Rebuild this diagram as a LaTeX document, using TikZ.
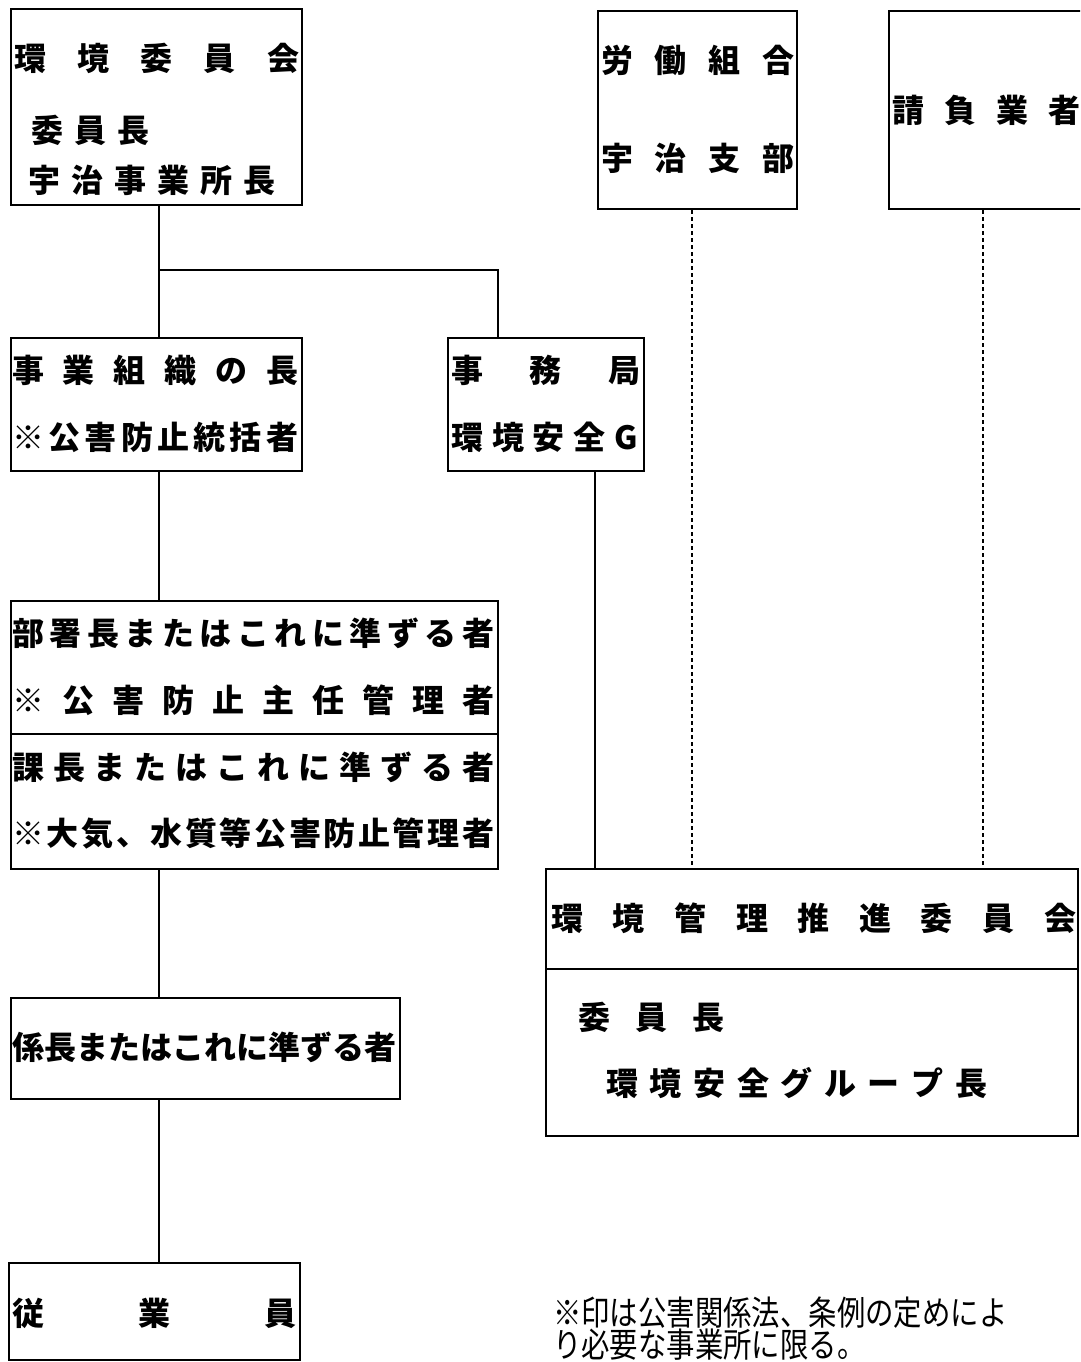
\documentclass[tikz,border=0pt]{standalone}
\usepackage{fontspec}
\newfontfamily\jp{Noto Sans CJK JP}
\newcommand\spr[2]{\makebox[#1][s]{\spaceskip=0pt plus 1fill\relax #2}}
\begin{document}
\begin{tikzpicture}[x=1pt,y=-1pt,
  box/.style={draw, line width=2.2pt, inner sep=0pt, anchor=north west},
  txt/.style={inner sep=0pt, anchor=west, font=\jp\bfseries\fontsize{32}{36}\selectfont},
  note/.style={inner sep=0pt, anchor=west, font=\jp\fontsize{34}{38}\selectfont},
  conn/.style={line width=2pt},
  dconn/.style={line width=1.6pt, dash pattern=on 4pt off 3pt}]
\useasboundingbox (0,0) rectangle (1080,1362);
\clip (0,0) rectangle (1080,1362);
% boxes
\node[box, minimum width=291pt, minimum height=196pt] (b1) at (10,8) {};
\node[box, minimum width=291pt, minimum height=133pt] (b2) at (10,337) {};
\node[box, minimum width=196pt, minimum height=133pt] (b3) at (447,337) {};
\node[box, minimum width=487pt, minimum height=133pt] (b4a) at (10,600) {};
\node[box, minimum width=487pt, minimum height=135pt] (b4b) at (10,733) {};
\node[box, minimum width=389pt, minimum height=101pt] (b5) at (10,997) {};
\node[box, minimum width=291pt, minimum height=97pt] (b6) at (8,1262) {};
\node[box, minimum width=199pt, minimum height=198pt] (b8) at (597,10) {};
\node[box, minimum width=240pt, minimum height=198pt] (b9) at (888,10) {};
\node[box, minimum width=532pt, minimum height=100pt] (b7a) at (545,868) {};
\node[box, minimum width=532pt, minimum height=167pt] (b7b) at (545,968) {};
% texts
\node[txt] (t1a) at (14,58) {\spr{285pt}{環 境 委 員 会}};
\node[txt] (t1b) at (31,130) {\spr{118pt}{委 員 長}};
\node[txt] (t1c) at (28,180) {\spr{247pt}{宇 治 事 業 所 長}};
\node[txt] (t2a) at (12,370) {\spr{286pt}{事 業 組 織 の 長}};
\node[txt] (t2b) at (12,437) {\spr{286pt}{※ 公 害 防 止 統 括 者}};
\node[txt] (t3a) at (451,370) {\spr{189pt}{事 務 局}};
\node[txt] (t3b) at (451,437) {\spr{187pt}{環 境 安 全 G}};
\node[txt] (t4a) at (12,633) {\spr{482pt}{部 署 長 ま た は こ れ に 準 ず る 者}};
\node[txt] (t4b) at (12,700) {\spr{482pt}{※ 公 害 防 止 主 任 管 理 者}};
\node[txt] (t4c) at (12,767) {\spr{482pt}{課 長 ま た は こ れ に 準 ず る 者}};
\node[txt] (t4d) at (12,833) {\spr{482pt}{※ 大 気 、 水 質 等 公 害 防 止 管 理 者}};
\node[txt] (t5) at (12,1047) {\spr{384pt}{係 長 ま た は こ れ に 準 ず る 者}};
\node[txt] (t6) at (12,1313) {\spr{284pt}{従 業 員}};
\node[txt] (t8a) at (601,60) {\spr{193pt}{労 働 組 合}};
\node[txt] (t8b) at (601,158) {\spr{193pt}{宇 治 支 部}};
\node[txt] (t9) at (892,110) {\spr{188pt}{請 負 業 者}};
\node[txt] (t7a) at (551,918) {\spr{525pt}{環 境 管 理 推 進 委 員 会}};
\node[txt] (t7b) at (578,1017) {\spr{146pt}{委 員 長}};
\node[txt] (t7c) at (606,1083) {\spr{381pt}{環 境 安 全 グ ル ー プ 長}};
\node[note] (n1) at (553,1313) {\scalebox{0.835}[1]{※印は公害関係法、条例の定めによ}};
\node[note] (n2) at (553,1345) {\scalebox{0.835}[1]{り必要な事業所に限る。}};
% connectors
\coordinate (j1) at (159,270);
\coordinate (j2) at (498,270);
\coordinate (lc) at (159,0);
\coordinate (rc) at (595,0);
\coordinate (d1) at (692,0);
\coordinate (d2) at (983,0);
\draw[conn] (j1 |- b1.south) -- (j1) -- (j2) -- (j2 |- b3.north);
\draw[conn] (j1) -- (j1 |- b2.north);
\draw[conn] (lc |- b2.south) -- (lc |- b4a.north);
\draw[conn] (lc |- b4b.south) -- (lc |- b5.north);
\draw[conn] (lc |- b5.south) -- (lc |- b6.north);
\draw[conn] (rc |- b3.south) -- (rc |- b7a.north);
\draw[dconn] (d1 |- b8.south) -- (d1 |- b7a.north);
\draw[dconn] (d2 |- b9.south) -- (d2 |- b7a.north);
\end{tikzpicture}
\end{document}
